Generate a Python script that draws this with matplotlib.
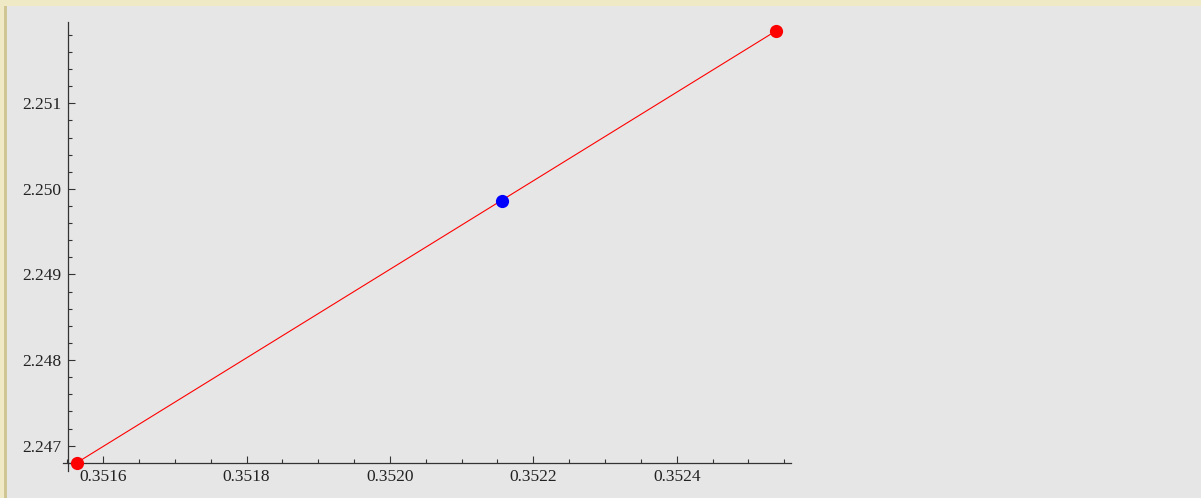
import matplotlib
matplotlib.use("Agg")
import matplotlib.pyplot as plt
from matplotlib.patches import Rectangle
from matplotlib.ticker import MultipleLocator, FormatStrFormatter

# data points
end_x = [0.351563, 0.352539]
end_y = [2.246800, 2.251848]
mid_x = [0.352156]
mid_y = [2.249862]

# where the axes cross
x_cross = 0.351551
y_cross = 2.246801

W, H = 1201, 498
fig = plt.figure(figsize=(W / 100, H / 100), dpi=100)
fig.patch.set_facecolor("#e6e6e6")

# beige frame strips top / left
fig.patches.append(Rectangle((0, 1 - 6 / H), 1, 6 / H, transform=fig.transFigure,
                             facecolor="#efe9c6", edgecolor="none", zorder=0))
fig.patches.append(Rectangle((0, 0), 4 / W, 1, transform=fig.transFigure,
                             facecolor="#efe9c6", edgecolor="none", zorder=0))
fig.patches.append(Rectangle((4 / W, 0), 3.3 / W, 1 - 6 / H, transform=fig.transFigure,
                             facecolor="#cfc595", edgecolor="none", zorder=0))

left, right = 63 / W, 790.7 / W
bottom, top = 27.3 / H, 475.7 / H
ax = fig.add_axes([left, bottom, right - left, top - bottom])
ax.set_facecolor("none")

ax.plot(end_x, end_y, color="red", lw=0.8, zorder=2)
ax.plot(end_x, end_y, "o", color="red", ms=9.5, mec="none", zorder=3)
ax.plot(mid_x, mid_y, "o", color="blue", ms=9.5, mec="none", zorder=3)

ax.set_xlim(0.351544, 0.352559)
ax.set_ylim(2.246708, 2.251946)

for s in ["top", "right"]:
    ax.spines[s].set_visible(False)
ax.spines["left"].set_position(("data", x_cross))
ax.spines["bottom"].set_position(("data", y_cross))
for s in ["left", "bottom"]:
    ax.spines[s].set_color("#333333")
    ax.spines[s].set_linewidth(0.9)

ax.xaxis.set_major_locator(MultipleLocator(0.0002))
ax.xaxis.set_minor_locator(MultipleLocator(0.00005))
ax.yaxis.set_major_locator(MultipleLocator(0.001))
ax.yaxis.set_minor_locator(MultipleLocator(0.0002))
ax.xaxis.set_major_formatter(FormatStrFormatter("%.4f"))
ax.yaxis.set_major_formatter(FormatStrFormatter("%.3f"))

ax.tick_params(which="both", direction="in", color="#333333", width=0.8,
               labelsize=12.5, labelcolor="#222222")
ax.tick_params(which="major", length=5.2)
ax.tick_params(which="minor", length=3)
ax.tick_params(axis="x", which="major", pad=4.5)
ax.tick_params(axis="y", which="major", pad=5)
for lab in ax.get_xticklabels() + ax.get_yticklabels():
    lab.set_fontfamily("Liberation Serif")

fig.savefig("out.png", dpi=100)
